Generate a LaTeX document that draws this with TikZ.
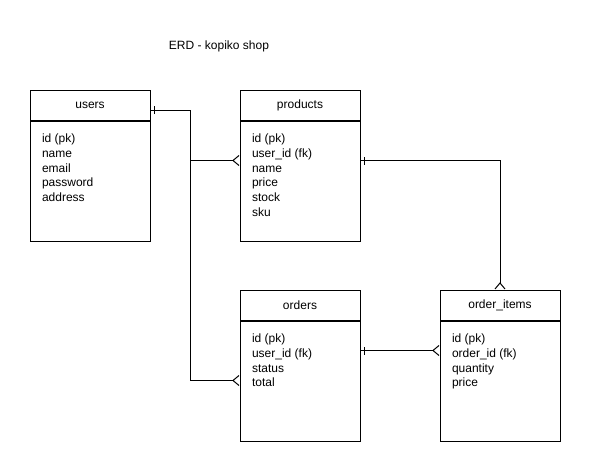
\documentclass[tikz,border=0pt]{standalone}
\usepackage{fontspec}
\setmainfont{Liberation Sans}
\usepackage{tikz}
\usetikzlibrary{positioning,arrows.meta,decorations.markings}
\tikzstyle{every node}=[font=\fontsize{12}{14.7}\selectfont]
\tikzstyle{tablehead}=[draw=black,minimum width=120pt,minimum height=30pt,inner sep=0pt]
\tikzstyle{tablebody}=[draw=black,minimum width=120pt,minimum height=120pt,inner sep=0pt]
\tikzstyle{fields}=[anchor=north west,align=left,inner xsep=12pt,inner ysep=13pt]
\tikzstyle{tomany}=[-{Straight Barb[reversed,length=6pt,width=10pt]}]
\tikzstyle{onemany}=[tomany,postaction={decorate},decoration={markings,mark=at position 4pt with {\draw[-] (0,-4pt) -- (0,4pt);}}]

\begin{document}
\begin{tikzpicture}[x=1pt,y=-1pt,line width=1pt]
		\useasboundingbox (0,0) rectangle (591,471);
		\node[draw=none] (title) at (219,46) {ERD - kopiko shop};
		% users
		\node[tablehead] (users) at (90,105) {users};
		\node[tablebody,below=0pt of users] (usersbody) {};
		\node[fields] at (usersbody.north west) {id (pk)\\name\\email\\password\\address};
		% products
		\node[tablehead] (products) at (300,105) {products};
		\node[tablebody,below=0pt of products] (productsbody) {};
		\node[fields] at (productsbody.north west) {id (pk)\\user\_id (fk)\\name\\price\\stock\\sku};
		% orders
		\node[tablehead] (orders) at (300,305) {orders};
		\node[tablebody,below=0pt of orders] (ordersbody) {};
		\node[fields] at (ordersbody.north west) {id (pk)\\user\_id (fk)\\status\\total};
		% order_items
		\node[tablehead] (items) at (500,305) {order\_items};
		\node[tablebody,below=0pt of items] (itemsbody) {};
		\node[fields] at (itemsbody.north west) {id (pk)\\order\_id (fk)\\quantity\\price};
		% relations
		\draw[onemany] ([yshift=-5pt]users.east) -- ++(40,0) |- ([yshift=-40pt]productsbody.north west);
		\draw[tomany] ([xshift=40pt,yshift=-5pt]users.east) |- ([yshift=-60pt]ordersbody.north west);
		\draw[onemany] ([yshift=-40pt]productsbody.north east) -| (items.north);
		\draw[onemany] ([yshift=-30pt]ordersbody.north east) -- ([yshift=-30pt]itemsbody.north west);
\end{tikzpicture}
\end{document}
